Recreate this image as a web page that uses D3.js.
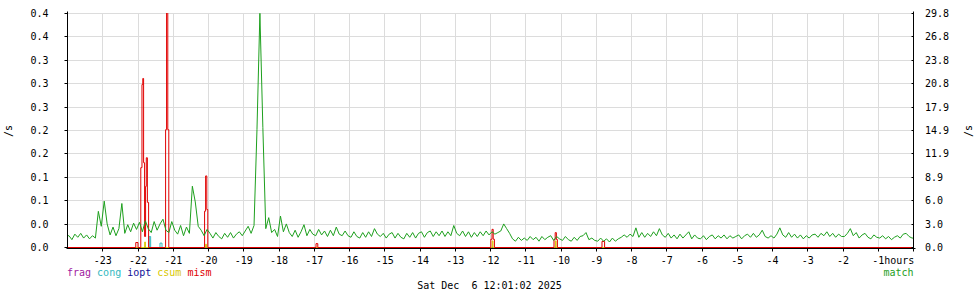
<!DOCTYPE html>
<html><head><meta charset="utf-8">
<script src="https://cdn.jsdelivr.net/npm/d3@7"></script>
<style>
html,body{margin:0;padding:0;background:#fff;}
svg text{font-family:"DejaVu Sans Mono",monospace;font-size:10px;fill:#000;}
</style></head>
<body><svg id="c" width="980" height="300"></svg>
<script>
// ---- data ----
const xTickHours = [-23,-22,-21,-20,-19,-18,-17,-16,-15,-14,-13,-12,-11,-10,-9,-8,-7,-6,-5,-4,-3,-2,-1];
const xTickLabels = ["-23","-22","-21","-20","-19","-18","-17","-16","-15","-14","-13","-12","-11","-10","-9","-8","-7","-6","-5","-4","-3","-2","-1hours"];
const leftMax = 0.425;
const leftTickLabels = ["0.0","0.0","0.1","0.1","0.2","0.2","0.3","0.3","0.3","0.4","0.4"];
const rightMax = 29.78;
const rightTickLabels = ["0.0","3.0","6.0","8.9","11.9","14.9","17.9","20.8","23.8","26.8","29.8"];
const legendLeft = ["frag","cong","iopt","csum","mism"];
const legendRight = ["match"];
const dateLabel = "Sat Dec  6 12:01:02 2025";

// match: 5-minute values over the last 24 hours (right axis), one row per hour
const matchValues = [
 1.5,1.0,1.7,1.3,1.8,1.2,1.6,1.1,1.5,1.2,4.6,2.7,
 5.9,3.0,1.6,2.6,1.5,2.4,5.6,1.8,2.9,2.0,3.1,2.3,
 3.2,2.0,3.4,2.4,1.9,3.3,2.2,3.0,3.6,2.2,1.9,3.3,
 2.2,1.7,2.8,1.5,2.6,1.8,7.8,5.8,2.7,2.2,1.5,2.3,
 1.8,1.2,1.9,1.4,1.1,1.8,1.3,1.9,1.2,1.7,2.0,1.5,
 2.1,2.7,1.8,2.8,15.0,29.8,15.3,2.4,3.8,1.9,2.3,1.4,
 4.0,2.0,3.0,1.9,1.4,2.2,1.3,2.0,2.9,1.5,2.3,1.7,
 1.5,2.3,1.6,2.1,1.4,2.2,1.5,2.6,1.7,1.5,2.1,1.5,
 1.3,2.0,1.4,1.2,1.9,1.3,2.0,1.4,2.4,1.7,1.4,1.8,
 1.2,1.7,1.9,1.2,1.8,1.3,1.1,1.8,1.3,1.9,1.2,1.8,
 2.0,1.3,1.9,2.1,1.4,2.0,1.5,2.1,1.4,2.0,1.5,2.8,
 1.8,1.5,2.1,1.4,2.0,1.3,1.9,1.4,2.0,1.5,2.1,1.6,
 2.0,1.7,1.9,2.1,3.0,2.4,1.8,1.1,0.8,1.3,0.9,1.2,
 0.9,1.4,1.0,1.3,0.8,1.4,1.0,1.3,1.5,0.9,1.4,1.1,
 0.9,1.4,1.0,0.8,1.3,0.9,1.4,1.5,1.9,1.0,1.2,0.9,
 0.8,1.2,0.8,1.1,0.7,1.2,0.8,1.1,1.3,1.6,1.3,1.7,
 1.4,2.5,1.3,1.9,1.3,1.8,1.4,2.0,1.5,2.4,1.6,1.3,
 1.8,1.2,1.6,1.1,1.7,1.2,1.6,2.0,1.1,1.6,1.2,1.1,
 1.5,1.0,1.4,1.6,1.1,1.5,1.2,1.6,1.1,1.5,1.2,1.4,
 1.6,1.1,1.5,1.7,1.3,1.8,1.3,1.6,2.2,1.4,1.2,1.5,
 1.2,1.7,2.5,1.6,1.3,1.9,1.3,1.7,1.2,1.6,1.1,1.5,
 1.2,1.6,1.7,1.3,1.8,1.5,2.0,1.4,1.8,1.3,1.7,1.4,
 1.4,1.8,2.4,1.5,1.9,1.2,1.6,1.8,1.3,1.1,1.6,1.3,
 1.2,1.5,1.1,1.4,1.0,1.3,1.5,1.2,1.7,1.8,1.4,1.2
];

// mism: value changes (hours, value), held until the next change (left axis)
const mismTimes  = [-24,-22.063,-22.000,-21.921,-21.887,-21.864,-21.841,-21.813,-21.785,-21.765,-21.734,-21.699,
  -21.217,-21.189,-21.155,-21.126,-20.111,-20.082,-20.048,-20.020,-16.950,-16.899,
  -11.991,-11.957,-11.923,-11.889,-10.199,-10.165,-10.131,-10.102,-8.837,-8.763,0];
const mismValues = [0,0.009,0,0.145,0.296,0.307,0.154,0.02,0.111,0.163,0.082,0,
  0.214,0.6,0.214,0,0.066,0.13,0.069,0,0.007,0,
  0.015,0.033,0.015,0,0.0145,0.027,0.0145,0,0.011,0,0];
const congTimes  = [-24,-21.681,-21.641,-21.376,-21.319,0];
const congValues = [0,0.02,0,0.008,0,0];
const csumTimes  = [-24,-21.810,-21.790,-20.080,-20.060,-11.950,-11.930,-10.160,-10.140,0];
const csumValues = [0,0.01,0,0.006,0,0.012,0,0.012,0,0];
const fragTimes  = [-24,0];
const fragValues = [0,0];
const ioptTimes  = [-24,0];
const ioptValues = [0,0];

// ---- drawing ----
const colors = {frag:"#a020a0", cong:"#30b8c0", iopt:"#101098", csum:"#d8c800", mism:"#e00000", match:"#1ea01e"};
const L = 67.5, R = 913.5, T = 13.5, B = 247.5;
const svg = d3.select("#c");
const x = d3.scaleLinear().domain([-24,0]).range([L,R]);
const yL = d3.scaleLinear().domain([0,leftMax]).range([B,T]);
const yR = d3.scaleLinear().domain([0,rightMax]).range([B,T]);
const snap = v => Math.floor(v)+0.5;

// grid
const g = svg.append("g");
g.selectAll("line.v").data(xTickHours).join("line")
  .attr("x1",d=>snap(x(d))).attr("x2",d=>snap(x(d))).attr("y1",T).attr("y2",B)
  .attr("stroke","#dcdcdc");
const levels = d3.range(1,11);
g.selectAll("line.h").data(levels).join("line")
  .attr("x1",L).attr("x2",R).attr("y1",d=>snap(yL(d*leftMax/10))).attr("y2",d=>snap(yL(d*leftMax/10)))
  .attr("stroke","#dcdcdc");

// clip
svg.append("clipPath").attr("id","pc").append("rect")
  .attr("x",L-0.5).attr("y",T-0.5).attr("width",R-L+1).attr("height",B-T+1);
const plot = svg.append("g").attr("clip-path","url(#pc)");

function stepLine(times, vals, color){
  const pts = times.map((t,i)=>[t,vals[i]]);
  const line = d3.line().x(d=>x(d[0])).y(d=>yL(d[1])).curve(d3.curveStepAfter);
  plot.append("path").attr("d",line(pts)).attr("fill","none").attr("stroke",color).attr("stroke-width",1);
}
stepLine(fragTimes,fragValues,colors.frag);
stepLine(congTimes,congValues,colors.cong);
stepLine(ioptTimes,ioptValues,colors.iopt);
stepLine(csumTimes,csumValues,colors.csum);
stepLine(mismTimes,mismValues,colors.mism);

// match: points at the centre of each 5-minute bin, joined linearly
const n = matchValues.length;
const mPts = matchValues.map((v,i)=>[-24 + (i+0.5)*24/n, v]);
mPts.unshift([-24, matchValues[0]]);
mPts.push([0, matchValues[n-1]]);
const mLine = d3.line().x(d=>x(d[0])).y(d=>yR(d[1]));
plot.append("path").attr("d",mLine(mPts)).attr("fill","none").attr("stroke",colors.match).attr("stroke-width",1);

// axes
const ax = svg.append("g").attr("stroke","#000").attr("stroke-width",1);
ax.append("line").attr("x1",L).attr("x2",L).attr("y1",T-2).attr("y2",B+1);
ax.append("line").attr("x1",R).attr("x2",R).attr("y1",T-2).attr("y2",B+1);
ax.append("line").attr("x1",L-1).attr("x2",R+2).attr("y1",B+1).attr("y2",B+1);
ax.selectAll("line.lt").data(d3.range(0,11)).join("line")
  .attr("x1",L-3).attr("x2",L).attr("y1",d=>snap(yL(d*leftMax/10))).attr("y2",d=>snap(yL(d*leftMax/10)));
ax.selectAll("line.rt").data(d3.range(0,11)).join("line")
  .attr("x1",R-2).attr("x2",R).attr("y1",d=>snap(yR(d*rightMax/10))).attr("y2",d=>snap(yR(d*rightMax/10)));
ax.selectAll("line.bt").data(xTickHours.concat([0])).join("line")
  .attr("x1",d=>snap(x(d))).attr("x2",d=>snap(x(d))).attr("y1",B+1).attr("y2",B+4);

// labels
svg.selectAll("text.yl").data(leftTickLabels).join("text")
  .attr("x",48.5).attr("y",(d,i)=>yL(i*leftMax/10)).attr("dy","0.35em").attr("text-anchor","end").text(d=>d);
svg.selectAll("text.yr").data(rightTickLabels).join("text")
  .attr("x",925).attr("y",(d,i)=>yR(i*rightMax/10)).attr("dy","0.35em").attr("text-anchor","start").text(d=>d);
svg.selectAll("text.xl").data(xTickLabels).join("text")
  .attr("x",(d,i)=> i===xTickLabels.length-1 ? x(xTickHours[i])-6 : x(xTickHours[i]))
  .attr("y",263.5)
  .attr("text-anchor",(d,i)=> i===xTickLabels.length-1 ? "start" : "middle").text(d=>d);

svg.append("text").attr("transform","translate(12,131) rotate(-90)").attr("text-anchor","middle").text("/s");
svg.append("text").attr("transform","translate(972,131) rotate(-90)").attr("text-anchor","middle").text("/s");

// legend
let lx = 67;
legendLeft.forEach(name=>{
  svg.append("text").attr("x",lx).attr("y",276).style("fill",colors[name]).text(name);
  lx += (name.length+1)*6.02;
});
svg.append("text").attr("x",913.5).attr("y",276).attr("text-anchor","end").style("fill",colors.match).text(legendRight[0]);

svg.append("text").attr("x",489.5).attr("y",289).attr("text-anchor","middle").style("white-space","pre").attr("xml:space","preserve").text(dateLabel);
</script>
</body></html>
